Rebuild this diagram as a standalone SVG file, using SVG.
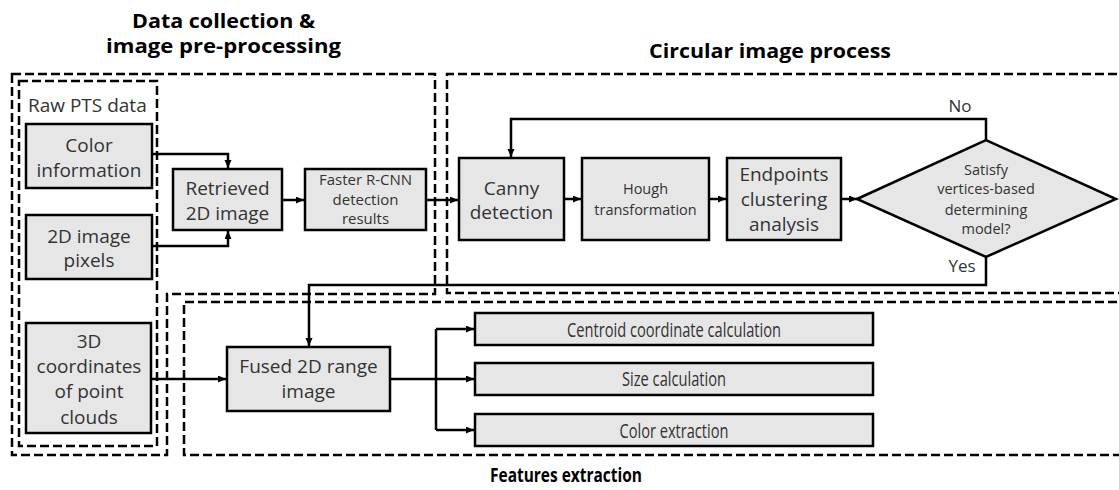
<svg xmlns="http://www.w3.org/2000/svg" width="1119" height="490" viewBox="0 0 1119 490">
<defs>
<marker id="ah" markerUnits="userSpaceOnUse" markerWidth="9" markerHeight="8" refX="8" refY="3.5" orient="auto">
<path d="M0,0 L8,3.5 L0,7 z" fill="#000"/>
</marker>
<style>
.box{fill:#e6e6e6;stroke:#000;stroke-width:2.5}
.dash{fill:none;stroke:#000;stroke-width:2.5;stroke-dasharray:9 4}
.con{fill:none;stroke:#000;stroke-width:2.5}
.arr{marker-end:url(#ah)}
text{font-family:"Open Sans","Noto Sans","DejaVu Sans",sans-serif;fill:#333;text-anchor:middle}
.t19{font-size:19px}
.t15{font-size:15px}
.t14{font-size:14.5px}
.ttl{font-size:20px;font-weight:bold;fill:#000}
.lbl{font-size:17px}
.feat{font-size:20px}
</style>
</defs>

<g id="groups">
<path id="grp-data" class="dash" d="M12,74 H435 V294 H167 V455 H12 Z"/>
<rect id="grp-raw" class="dash" x="19" y="81" width="138" height="365"/>
<path id="grp-circular" class="dash" d="M1130,74 H447 V293 H1130"/>
<path id="grp-features" class="dash" d="M1130,302 H184 V455 H1130"/>
<text class="ttl" x="223.5" y="28" textLength="183" lengthAdjust="spacingAndGlyphs">Data collection &amp;</text>
<text class="ttl" x="223.5" y="53" textLength="235" lengthAdjust="spacingAndGlyphs">image pre-processing</text>
<text class="ttl" x="770" y="58" textLength="242" lengthAdjust="spacingAndGlyphs">Circular image process</text>
<text class="ttl" x="566" y="482" textLength="152" lengthAdjust="spacingAndGlyphs">Features extraction</text>
<text class="t19" x="28" y="112" style="text-anchor:start">Raw PTS data</text>
</g>

<g id="connectors">
<path class="con arr" d="M152,154 H228 V168"/>
<path class="con arr" d="M152,246 H228 V231"/>
<path class="con arr" d="M282,200 H304"/>
<path class="con arr" d="M426,200 H458"/>
<path class="con arr" d="M564,199 H581"/>
<path class="con arr" d="M709,199 H726"/>
<path class="con arr" d="M841,199 H857"/>
<path class="con arr" d="M986,140 V119 H511 V157"/>
<path class="con arr" d="M986,257 V285 H309 V346"/>
<path class="con arr" d="M151,379 H226"/>
<path class="con" d="M390,379 H436 M436,329 V430"/>
<path class="con arr" d="M436,329 H474"/>
<path class="con arr" d="M436,379 H474"/>
<path class="con arr" d="M436,430 H474"/>
<text class="lbl" x="960" y="112">No</text>
<text class="lbl" x="962" y="272">Yes</text>
</g>

<g id="n-color">
<rect class="box" x="26" y="124" width="126" height="64"/>
<text class="t19" x="89" y="152">Color</text>
<text class="t19" x="89" y="177">information</text>
</g>
<g id="n-pixels">
<rect class="box" x="26" y="215" width="126" height="64"/>
<text class="t19" x="89" y="243">2D image</text>
<text class="t19" x="89" y="267">pixels</text>
</g>
<g id="n-3d">
<rect class="box" x="26" y="323" width="125" height="110"/>
<text class="t19" x="89" y="348">3D</text>
<text class="t19" x="89" y="373">coordinates</text>
<text class="t19" x="89" y="398">of point</text>
<text class="t19" x="89" y="424">clouds</text>
</g>
<g id="n-retrieved">
<rect class="box" x="173" y="169" width="109" height="61"/>
<text class="t19" x="227.5" y="195">Retrieved</text>
<text class="t19" x="227.5" y="220">2D image</text>
</g>
<g id="n-faster">
<rect class="box" x="305" y="169" width="121" height="61"/>
<text class="t15" x="365.5" y="185">Faster R-CNN</text>
<text class="t15" x="365.5" y="205">detection</text>
<text class="t15" x="365.5" y="224">results</text>
</g>
<g id="n-canny">
<rect class="box" x="459" y="158" width="105" height="82"/>
<text class="t19" x="511.5" y="195">Canny</text>
<text class="t19" x="511.5" y="219">detection</text>
</g>
<g id="n-hough">
<rect class="box" x="582" y="158" width="127" height="82"/>
<text class="t14" x="645.5" y="194">Hough</text>
<text class="t14" x="645.5" y="215">transformation</text>
</g>
<g id="n-endpoints">
<rect class="box" x="727" y="158" width="114" height="82"/>
<text class="t19" x="784" y="181">Endpoints</text>
<text class="t19" x="784" y="206">clustering</text>
<text class="t19" x="784" y="231">analysis</text>
</g>
<g id="n-decision">
<polygon class="box" points="857,199 986,140 1116,199 986,257"/>
<text class="t14" x="986" y="175">Satisfy</text>
<text class="t14" x="986" y="194">vertices-based</text>
<text class="t14" x="986" y="215">determining</text>
<text class="t14" x="986" y="234">model?</text>
</g>
<g id="n-fused">
<rect class="box" x="227" y="347" width="163" height="64"/>
<text class="t19" x="308.5" y="373">Fused 2D range</text>
<text class="t19" x="308.5" y="398">image</text>
</g>
<g id="n-centroid">
<rect class="box" x="475" y="313" width="398" height="32"/>
<text class="feat" x="674" y="337" textLength="214" lengthAdjust="spacingAndGlyphs">Centroid coordinate calculation</text>
</g>
<g id="n-size">
<rect class="box" x="475" y="363" width="398" height="32"/>
<text class="feat" x="674" y="386" textLength="104" lengthAdjust="spacingAndGlyphs">Size calculation</text>
</g>
<g id="n-colorext">
<rect class="box" x="475" y="414" width="398" height="32"/>
<text class="feat" x="674" y="438" textLength="109" lengthAdjust="spacingAndGlyphs">Color extraction</text>
</g>
</svg>
